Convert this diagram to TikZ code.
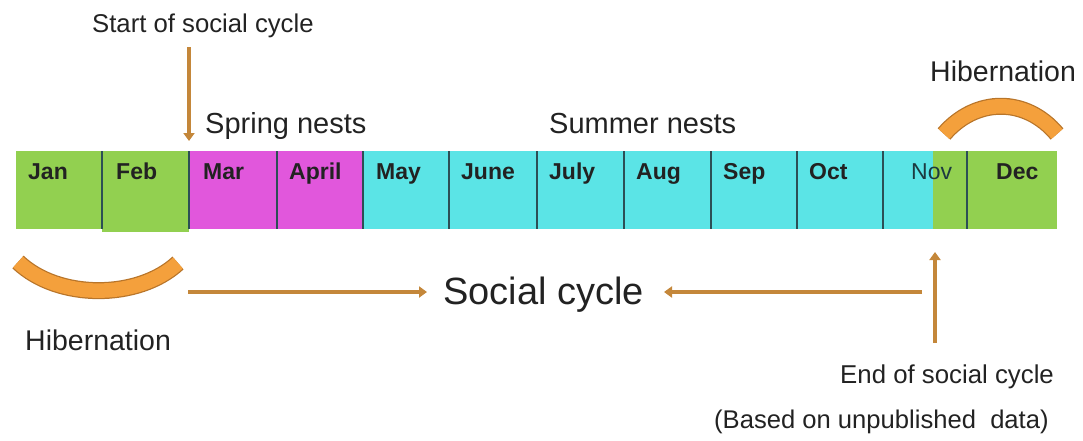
\documentclass[tikz,border=0pt]{standalone}
\usepackage{fontspec}
\setmainfont{Liberation Sans}
\usetikzlibrary{arrows.meta}
\definecolor{mgreen}{HTML}{92D050}
\definecolor{mpink}{HTML}{E157DC}
\definecolor{mcyan}{HTML}{5BE4E6}
\definecolor{arrowc}{HTML}{C4873A}
\definecolor{arcfill}{HTML}{F4A03C}
\definecolor{arcedge}{HTML}{B8752A}
\definecolor{divline}{HTML}{2C4F55}
\definecolor{novtxt}{HTML}{1C3A40}
\definecolor{txt}{HTML}{222222}
\tikzset{
  month/.style={anchor=base west, inner sep=0pt, font=\fontsize{23}{26}\selectfont\bfseries, text=txt},
  label/.style={anchor=base west, inner sep=0pt, text=txt},
  flow/.style={line width=4pt, draw=arrowc, -{Triangle[width=11pt,length=8pt]}},
  arcout/.style={line width=17pt, draw=arcedge},
  arcin/.style={line width=14.5pt, draw=arcfill},
}
\begin{document}
\begin{tikzpicture}[x=1pt,y=-1pt]
\useasboundingbox (0,0) rectangle (1083,440);
% bar
\fill[mgreen] (16,151) rectangle (102,229);
\fill[mgreen] (102,151) rectangle (189,232);
\fill[mpink] (189,151) rectangle (277,229);
\fill[mpink] (277,151) rectangle (363,229);
\fill[mcyan] (363,151) rectangle (933,229);
\fill[mgreen] (933,151) rectangle (1057,229);
\foreach \xx in {102,189,277,363,449,537,624,711,797,883,967}
  \draw[divline, line width=1.3pt] (\xx,151) -- (\xx,229);
% month labels
\node[month] (jan) at (28,179) {Jan};
\node[month] (feb) at (116,179) {Feb};
\node[month] (mar) at (203,179) {Mar};
\node[month] (apr) at (289,179) {April};
\node[month] (may) at (376,179) {May};
\node[month] (jun) at (461,179) {June};
\node[month] (jul) at (549,179) {July};
\node[month] (aug) at (636,179) {Aug};
\node[month] (sep) at (723,179) {Sep};
\node[month] (oct) at (809,179) {Oct};
\node[month, font=\fontsize{23}{26}\selectfont, text=novtxt] (nov) at (911,179) {Nov};
\node[month] (dec) at (996,179) {Dec};
% texts
\node[label, font=\fontsize{25.7}{30}\selectfont] (start) at (92,32) {Start of social cycle};
\node[label, font=\fontsize{29}{34}\selectfont] (spring) at (205,133) {Spring nests};
\node[label, font=\fontsize{29}{34}\selectfont] (summer) at (549,133) {Summer nests};
\node[label, font=\fontsize{28.5}{34}\selectfont] (hibtop) at (930,81) {Hibernation};
\node[label, font=\fontsize{28.5}{34}\selectfont] (hibbot) at (25,350) {Hibernation};
\node[label, font=\fontsize{38}{44}\selectfont] (social) at (443,304) {Social cycle};
\node[label, font=\fontsize{25.8}{30}\selectfont] (endc) at (840,383) {End of social cycle};
\node[label, font=\fontsize{25.6}{30}\selectfont] (based) at (714,428) {(Based on unpublished\ \ data)};
% arcs
\draw[arcout] (18,262) .. controls (58,300) and (138,300) .. (178,263);
\draw[arcin] (18,262) .. controls (58,300) and (138,300) .. (178,263);
\draw[arcout] (944,134) .. controls (976,97) and (1026,97) .. (1057,134);
\draw[arcin] (944,134) .. controls (976,97) and (1026,97) .. (1057,134);
% arrows
\coordinate (s1) at (189,47);
\coordinate (s2) at (189,141);
\coordinate (l1) at (188,292);
\coordinate (l2) at (427,292);
\coordinate (r1) at (922,292);
\coordinate (r2) at (664,292);
\coordinate (e1) at (935,343);
\coordinate (e2) at (935,252);
\draw[flow] (s1) -- (s2);
\draw[flow] (l1) -- (l2);
\draw[flow] (r1) -- (r2);
\draw[flow] (e1) -- (e2);
\end{tikzpicture}
\end{document}
